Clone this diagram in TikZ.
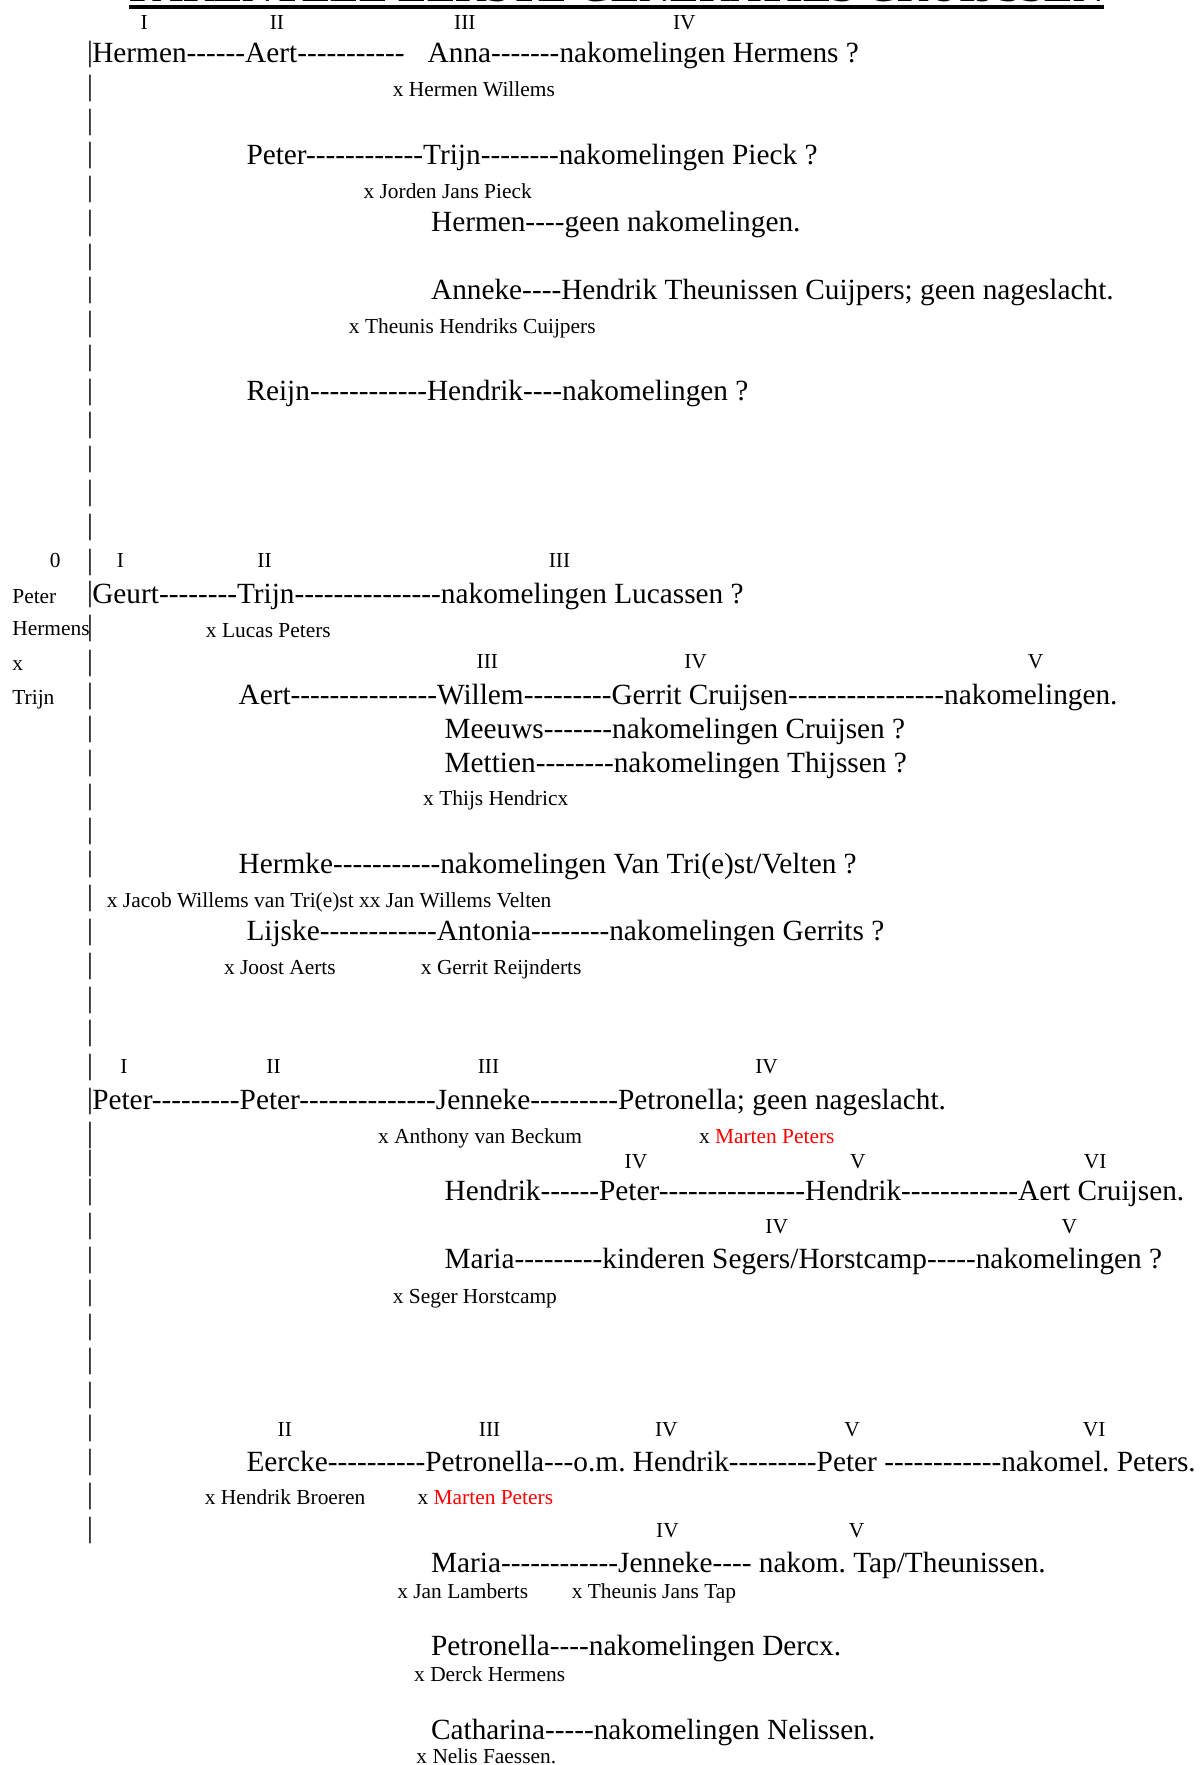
\documentclass[tikz,border=0pt]{standalone}
\usepackage{fontspec}
\setmainfont{Liberation Serif}[Ligatures=TeXOff]
\frenchspacing
\newcommand{\rood}[1]{\textcolor{red}{#1}}

\begin{document}
\begin{tikzpicture}[x=0.56285pt, y=-0.56285pt,
  every node/.style={inner sep=0pt, outer sep=0pt, text height=0.66em, text depth=0pt},
  naam/.style={anchor=west, yshift=-1.7pt, font=\fontsize{14.65}{17}\selectfont},
  noot/.style={anchor=west, yshift=-0.6pt, font=\fontsize{10.7}{12}\selectfont},
  gen/.style={anchor=center, font=\fontsize{10.7}{12}\selectfont},
  streep/.style={anchor=center, yshift=-1pt, font=\fontsize{14.65}{17}\selectfont}]
\useasboundingbox (0,0) rectangle (1066,1568);

% titel, bovenkant valt buiten de pagina
\node[anchor=base, font=\fontsize{21.4}{24}\selectfont\bfseries] (titel) at (548,1)
  {PARENTEEL EERSTE GENERATIES CRUIJSSEN};
\draw[line width=2.2pt] ([yshift=-3pt]titel.base west) -- ([yshift=-3pt]titel.base east);

% de lijn links
\foreach \y [count=\i] in {47,77,107,137,167,197,227,257,287,317,347,377,407,437,467,
    498,527,557,588,617,647,677,707,737,767,797,827,857,887,917,947,977,
    1007,1032,1058,1088,1118,1148,1178,1208,1238,1268,1298,1328,1358}
  \node[streep] (bar\i) at (80,\y) {|};

% generaties
\foreach \x/\y/\g [count=\i] in {128/20/I, 246/20/II, 413/20/III, 608/20/IV,
    49/498/0, 107/498/I, 235/498/II, 497/498/III,
    433/588/III, 618/588/IV, 920/588/V,
    110/948/I, 243/948/II, 434/948/III, 681/948/IV,
    565/1032/IV, 762/1032/V, 973/1032/VI,
    690/1090/IV, 950/1090/V,
    253/1270/II, 435/1270/III, 592/1270/IV, 757/1270/V, 972/1270/VI,
    593/1360/IV, 761/1360/V}
  \node[gen] (gen\i) at (\x,\y) {\g};

% Peter Hermens x Trijn
\node[noot] (peter) at (11,529) {Peter};
\node[noot] (hermens) at (11,558) {Hermens};
\node[noot] (x) at (11,589) {x};
\node[noot] (trijn) at (11,619) {Trijn};

% tak Hermen
\node[naam] (hermen) at (82,47) {Hermen------Aert-----------};
\node[naam] (anna) at (380,47) {Anna-------nakomelingen Hermens ?};
\node[noot] (xanna) at (349,79) {x Hermen Willems};
\node[naam] (peterA) at (219,137) {Peter------------Trijn--------nakomelingen Pieck ?};
\node[noot] (xtrijn) at (323,169) {x Jorden Jans Pieck};
\node[naam] (hermenB) at (383,197) {Hermen----geen nakomelingen.};
\node[naam] (anneke) at (383,257) {Anneke----Hendrik Theunissen Cuijpers; geen nageslacht.};
\node[noot] (xanneke) at (310,289) {x Theunis Hendriks Cuijpers};
\node[naam] (reijn) at (219,347) {Reijn------------Hendrik----nakomelingen ?};

% tak Geurt
\node[naam] (geurt) at (82,527) {Geurt--------Trijn---------------nakomelingen Lucassen ?};
\node[noot] (xgeurt) at (183,559) {x Lucas Peters};
\node[naam] (aert) at (212,617) {Aert---------------Willem---------Gerrit Cruijsen----------------nakomelingen.};
\node[naam] (meeuws) at (395,647) {Meeuws-------nakomelingen Cruijsen ?};
\node[naam] (mettien) at (395,677) {Mettien--------nakomelingen Thijssen ?};
\node[noot] (xmettien) at (376,709) {x Thijs Hendricx};
\node[naam] (hermke) at (212,767) {Hermke-----------nakomelingen Van Tri(e)st/Velten ?};
\node[noot] (xhermke) at (95,799) {x Jacob Willems van Tri(e)st xx Jan Willems Velten};
\node[naam] (lijske) at (219,827) {Lijske------------Antonia--------nakomelingen Gerrits ?};
\node[noot] (xlijske) at (199,859) {x Joost Aerts};
\node[noot] (xantonia) at (374,859) {x Gerrit Reijnderts};

% tak Peter
\node[naam] (peterB) at (82,977) {Peter---------Peter--------------Jenneke---------Petronella; geen nageslacht.};
\node[noot] (xjenneke) at (336,1009) {x Anthony van Beckum};
\node[noot] (xpetronella) at (621,1009) {x \rood{Marten Peters}};
\node[naam] (hendrik) at (395,1058) {Hendrik------Peter---------------Hendrik------------Aert Cruijsen.};
\node[naam] (maria) at (395,1118) {Maria---------kinderen Segers/Horstcamp-----nakomelingen ?};
\node[noot] (xmaria) at (349,1151) {x Seger Horstcamp};

% tak Eercke
\node[naam] (eercke) at (219,1298) {Eercke----------Petronella---o.m. Hendrik---------Peter ------------nakomel. Peters.};
\node[noot] (xeercke) at (182,1330) {x Hendrik Broeren};
\node[noot] (xpetronellaB) at (371,1330) {x \rood{Marten Peters}};
\node[naam] (mariaB) at (383,1388) {Maria------------Jenneke---- nakom. Tap/Theunissen.};
\node[noot] (xmariaB) at (353,1413) {x Jan Lamberts};
\node[noot] (xjennekeB) at (508,1413) {x Theunis Jans Tap};
\node[naam] (petronellaC) at (383,1462) {Petronella----nakomelingen Dercx.};
\node[noot] (xpetronellaC) at (368,1487) {x Derck Hermens};
\node[naam] (catharina) at (383,1536) {Catharina-----nakomelingen Nelissen.};
\node[noot] (xcatharina) at (370,1560) {x Nelis Faessen.};
\end{tikzpicture}
\end{document}
